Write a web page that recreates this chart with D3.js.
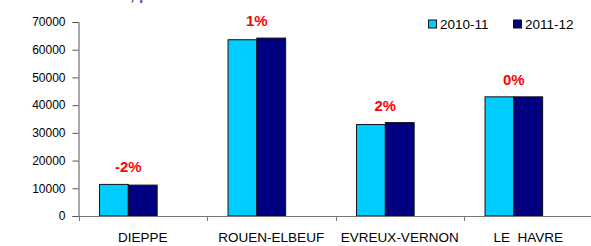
<!DOCTYPE html>
<html>
<head>
<meta charset="utf-8">
<script src="https://cdn.jsdelivr.net/npm/d3@7"></script>
<style>
  body { margin: 0; background: #fff; }
  svg text { font-family: "Liberation Sans", Arial, sans-serif; white-space: pre; }
</style>
</head>
<body>
<svg id="chart" width="591" height="246"></svg>
<script>
// data
const categories = ["DIEPPE", "ROUEN-ELBEUF", "EVREUX-VERNON", "LE  HAVRE"];
const series = ["2010-11", "2011-12"];
const values2010 = [11400, 63600, 33000, 43000];
const values2011 = [11150, 64200, 33700, 43000];
const changeLabels = ["-2%", "1%", "2%", "0%"];
const yTicks = [0, 10000, 20000, 30000, 40000, 50000, 60000, 70000];
const colors = ["#00CCFF", "#000080"];

const svg = d3.select("#chart");
const margin = {left: 78.5, top: 22, bottom: 216};
const plotRight = 592.5;

const x0 = d3.scaleBand().domain(categories).range([margin.left, plotRight]);
// excel leaves room for a third (empty) series, so bars sit left of centre
const x1 = d3.scaleBand().domain([...series, "blank"])
  .range([0, x0.bandwidth()]).paddingOuter(0.73);
const y = d3.scaleLinear().domain([0, 70000]).range([margin.bottom, margin.top]);

const rows = categories.map((c, i) => ({cat: c, vals: [values2010[i], values2011[i]], label: changeLabels[i]}));

// cropped title fragment at the very top
svg.append("text")
  .attr("x", 130).attr("y", 0)
  .attr("font-size", 16).attr("font-weight", "bold")
  .attr("fill", "#6f4fa8")
  .text(", p");

// y axis
const yAxis = svg.append("g")
  .attr("transform", `translate(${margin.left},0)`)
  .call(d3.axisLeft(y).tickValues(yTicks).tickFormat(d3.format("d")).tickSize(6).tickPadding(7));
yAxis.select(".domain").attr("stroke", "#555");
yAxis.selectAll(".tick line").attr("stroke", "#555");
yAxis.selectAll("text").attr("font-size", 12).attr("fill", "#000")
  .style("font-family", '"Liberation Sans", Arial, sans-serif');

// bars
const groups = svg.append("g").selectAll("g")
  .data(rows).enter().append("g")
  .attr("transform", d => `translate(${x0(d.cat)},0)`);

groups.selectAll("rect")
  .data(d => d.vals.map((v, j) => ({s: series[j], v: v, j: j})))
  .enter().append("rect")
  .attr("x", d => x1(d.s))
  .attr("y", d => y(d.v))
  .attr("width", x1.bandwidth())
  .attr("height", d => y(0) - y(d.v))
  .attr("fill", d => colors[d.j])
  .attr("stroke", "#111")
  .attr("stroke-width", 1);

// change labels
groups.append("text")
  .attr("x", x1(series[1]))
  .attr("y", d => y(d3.max(d.vals)) - 12)
  .attr("text-anchor", "middle")
  .attr("font-size", 15).attr("font-weight", "bold")
  .attr("fill", "#FF0000")
  .text(d => d.label);

// x axis
const xAxis = svg.append("g").attr("transform", `translate(0,${margin.bottom})`);
xAxis.append("line")
  .attr("x1", margin.left).attr("x2", plotRight)
  .attr("y1", 0.5).attr("y2", 0.5)
  .attr("stroke", "#777");
xAxis.selectAll("line.tick")
  .data(categories).enter().append("line")
  .attr("class", "tick")
  .attr("x1", d => Math.round(x0(d)) + 0.5).attr("x2", d => Math.round(x0(d)) + 0.5)
  .attr("y1", 0).attr("y2", 5)
  .attr("stroke", "#777");
xAxis.selectAll("text")
  .data(categories).enter().append("text")
  .attr("x", d => x0(d) + x0.bandwidth() / 2)
  .attr("y", 25.5)
  .attr("text-anchor", "middle")
  .attr("font-size", 13.5)
  .attr("fill", "#000")
  .text(d => d);

// legend
const legend = svg.append("g").selectAll("g")
  .data(series).enter().append("g")
  .attr("transform", (d, i) => `translate(${428.5 + i * 85},20)`);
legend.append("rect")
  .attr("width", 8).attr("height", 8)
  .attr("fill", (d, i) => colors[i])
  .attr("stroke", "#111").attr("stroke-width", 1);
legend.append("text")
  .attr("x", 11.5).attr("y", 9)
  .attr("font-size", 13.5)
  .attr("fill", "#000")
  .text(d => d);
</script>
</body>
</html>
